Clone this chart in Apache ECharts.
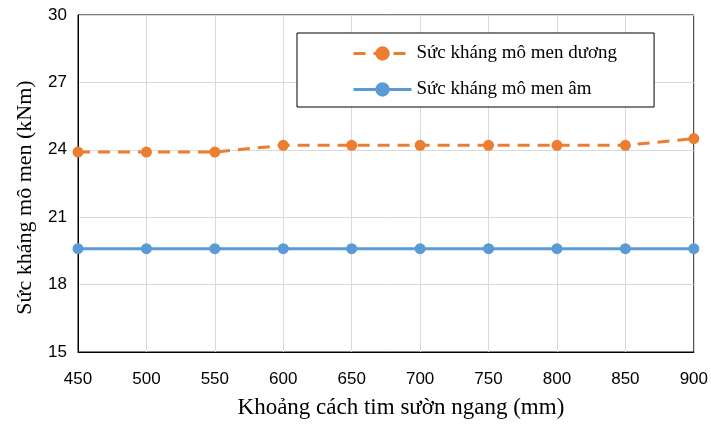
<!DOCTYPE html>
<html>
<head>
<meta charset="utf-8">
<script src="https://cdn.jsdelivr.net/npm/echarts@6/dist/echarts.min.js"></script>
<style>
  html, body { margin: 0; padding: 0; background: #fff; }
  #chart { width: 711px; height: 424px; }
</style>
</head>
<body>
<div id="chart"></div>
<script>
// khoảng cách tim sườn ngang (mm)
const spacing = [450, 500, 550, 600, 650, 700, 750, 800, 850, 900]
// sức kháng mô men (kNm)
const positiveMoment = [23.9, 23.9, 23.9, 24.2, 24.2, 24.2, 24.2, 24.2, 24.2, 24.5]
const negativeMoment = [19.6, 19.6, 19.6, 19.6, 19.6, 19.6, 19.6, 19.6, 19.6, 19.6]
const seriesNames = ['Sức kháng mô men dương', 'Sức kháng mô men âm']

const chart = echarts.init(document.getElementById('chart'))

const serif = 'Liberation Serif, Times New Roman, serif'
const sans = 'Liberation Sans, Arial, sans-serif'

const option = {
  animation: false,
  backgroundColor: '#fff',
  grid: {
    left: 78,
    right: 14,
    top: 15,
    bottom: 69,
    show: true,
    borderColor: '#000',
    borderWidth: 1
  },
  legend: {
    orient: 'vertical',
    left: 297,
    top: 33,
    data: seriesNames,
    itemWidth: 58,
    itemHeight: 18,
    itemGap: 17,
    padding: [11, 37, 8, 55],
    borderColor: '#000',
    borderWidth: 1,
    backgroundColor: '#fff',
    lineStyle: { width: 3 },
    textStyle: {
      fontFamily: serif,
      fontSize: 19,
      color: '#000',
      lineHeight: 18
    }
  },
  xAxis: {
    type: 'value',
    min: 450,
    max: 900,
    interval: 50,
    name: 'Khoảng cách tim sườn ngang (mm)',
    nameLocation: 'middle',
    nameGap: 44,
    nameTextStyle: { fontFamily: serif, fontSize: 23, color: '#000', padding: [0, 0, 0, 30] },
    axisLine: { show: true, lineStyle: { color: '#000' } },
    axisTick: { show: false },
    axisLabel: { fontFamily: sans, fontSize: 17, color: '#000', margin: 19 },
    splitLine: { show: true, lineStyle: { color: '#d9d9d9', width: 1 } }
  },
  yAxis: {
    type: 'value',
    min: 15,
    max: 30,
    interval: 3,
    name: 'Sức kháng mô men (kNm)',
    nameLocation: 'middle',
    nameGap: 42,
    nameTextStyle: { fontFamily: serif, fontSize: 22, color: '#000', padding: [0, 28, 0, 0] },
    axisLine: { show: true, lineStyle: { color: '#000' } },
    axisTick: { show: false },
    axisLabel: { fontFamily: sans, fontSize: 17, color: '#000', margin: 11 },
    splitLine: { show: true, lineStyle: { color: '#d9d9d9', width: 1 } }
  },
  series: [
    {
      name: seriesNames[0],
      type: 'line',
      data: spacing.map((x, i) => [x, positiveMoment[i]]),
      symbol: 'circle',
      symbolSize: 11,
      itemStyle: { color: '#ED7D31' },
      lineStyle: { color: '#ED7D31', width: 3, type: [12, 8] },
      z: 3
    },
    {
      name: seriesNames[1],
      type: 'line',
      data: spacing.map((x, i) => [x, negativeMoment[i]]),
      symbol: 'circle',
      symbolSize: 11,
      itemStyle: { color: '#5B9BD5' },
      lineStyle: { color: '#5B9BD5', width: 3 },
      z: 2
    }
  ]
}

chart.setOption(option)
</script>
</body>
</html>
